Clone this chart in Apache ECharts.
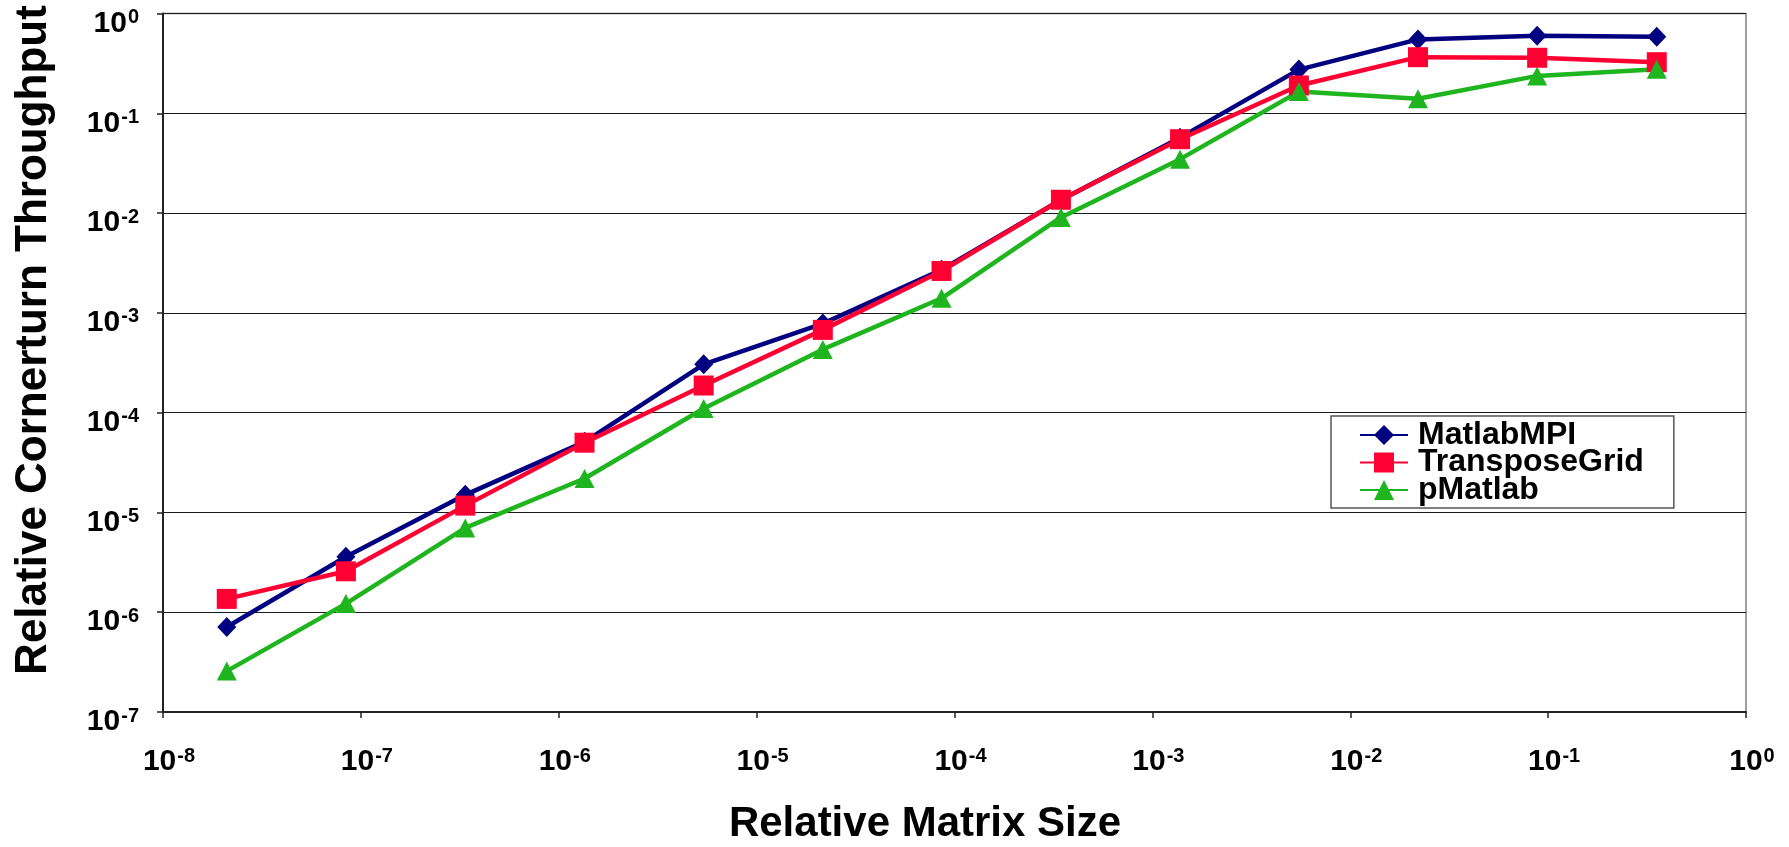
<!DOCTYPE html>
<html><head><meta charset="utf-8">
<script src="https://cdn.jsdelivr.net/npm/echarts@6/dist/echarts.min.js"></script>
<style>html,body{margin:0;padding:0;background:#fff}#c{width:1789px;height:847px}</style>
</head><body><div id="c"></div>
<script>
// Relative matrix size (x)
const matrixSize = [2.1e-8, 8.4e-8, 3.37e-7, 1.35e-6, 5.4e-6, 2.16e-5, 8.6e-5, 3.45e-4, 1.38e-3, 5.5e-3, 2.2e-2, 8.8e-2, 0.354];
// Relative cornerturn throughput (y)
const matlabMPI     = [7.1e-7, 3.6e-6, 1.5e-5, 5.1e-5, 3.05e-4, 7.8e-4, 2.7e-3, 1.35e-2, 5.7e-2, 0.274, 0.55, 0.60, 0.585];
const transposeGrid = [1.36e-6, 2.57e-6, 1.17e-5, 5.0e-5, 1.87e-4, 6.75e-4, 2.63e-3, 1.36e-2, 5.5e-2, 0.19, 0.365, 0.36, 0.325];
const pMatlab       = [2.57e-7, 1.22e-6, 7.0e-6, 2.19e-5, 1.1e-4, 4.3e-4, 1.4e-3, 9.05e-3, 3.47e-2, 0.165, 0.14, 0.237, 0.277];
const seriesNames = ['MatlabMPI', 'TransposeGrid', 'pMatlab'];
const xTickExp = ['-8', '-7', '-6', '-5', '-4', '-3', '-2', '-1', '0'];
const yTickExp = ['-7', '-6', '-5', '-4', '-3', '-2', '-1', '0'];
const xTitle = 'Relative Matrix Size';
const yTitle = 'Relative Cornerturn Throughput';

const FONT = '"Liberation Sans", Arial, sans-serif';
const pairs = ys => matrixSize.map((x, i) => [x, ys[i]]);
const richLbl = {
  b: { fontSize: 30, fontWeight: 'bold', fontFamily: FONT, color: '#000', lineHeight: 32 },
  s: { fontSize: 20, fontWeight: 'bold', fontFamily: FONT, color: '#000', lineHeight: 19, verticalAlign: 'top', padding: [0, 0, 0, 1] }
};
function fmt(arr, minExp) {
  return v => {
    const e = Math.round(Math.log10(v));
    return '{b|10}{s|' + arr[e - minExp] + '}';
  };
}

const chart = echarts.init(document.getElementById('c'), null, { renderer: 'canvas' });
chart.setOption({
  animation: false,
  backgroundColor: '#fff',
  grid: { left: 163, right: 43, top: 13.5, bottom: 135, show: true, borderColor: '#808080', borderWidth: 1.5, backgroundColor: 'transparent' },
  xAxis: {
    type: 'log', logBase: 10, min: 1e-8, max: 1, interval: 1,
    axisLine: { lineStyle: { color: '#222', width: 2 } },
    axisTick: { show: true, length: 6, inside: false, lineStyle: { color: '#222', width: 1.5 } },
    minorTick: { show: false },
    splitLine: { show: false },
    axisLabel: { margin: 34, formatter: fmt(xTickExp, -8), rich: richLbl, padding: [0, 0, 0, 12] }
  },
  yAxis: {
    type: 'log', logBase: 10, min: 1e-7, max: 1, interval: 1,
    axisLine: { show: true, lineStyle: { color: '#222', width: 2 } },
    axisTick: { show: true, length: 6, inside: false, lineStyle: { color: '#222', width: 1.5 } },
    minorTick: { show: false },
    splitLine: { show: true, lineStyle: { color: '#1a1a1a', width: 1.2 } },
    axisLabel: { margin: 24, formatter: fmt(yTickExp, -7), rich: richLbl, padding: [20, 0, 0, 0] }
  },
  legend: {
    orient: 'vertical', left: 1331, top: 416,
    padding: [3, 30, 2, 28], itemGap: -4.5, itemWidth: 48, itemHeight: 25,
    backgroundColor: '#fff', borderColor: '#555', borderWidth: 1.5,
    textStyle: { fontSize: 32, fontWeight: 'bold', fontFamily: FONT, color: '#000', padding: [0, 0, 0, 5] },
    data: seriesNames
  },
  graphic: [
    { type: 'text', position: [925, 824], style: { text: xTitle, font: 'bold 42px ' + FONT, fill: '#000', textAlign: 'center', textVerticalAlign: 'middle' } },
    { type: 'text', position: [34, 340], rotation: Math.PI / 2, style: { text: yTitle, font: 'bold 44px ' + FONT, fill: '#000', textAlign: 'center', textVerticalAlign: 'middle' } }
  ],
  series: [
    { name: seriesNames[0], type: 'line', data: pairs(matlabMPI), symbol: 'diamond', symbolSize: [19, 20],
      lineStyle: { color: '#000080', width: 4.5 }, itemStyle: { color: '#000080' } },
    { name: seriesNames[1], type: 'line', data: pairs(transposeGrid), symbol: 'rect', symbolSize: 20,
      lineStyle: { color: '#FF0033', width: 4.5 }, itemStyle: { color: '#FF0033' } },
    { name: seriesNames[2], type: 'line', data: pairs(pMatlab), symbol: 'triangle', symbolSize: [20, 19],
      lineStyle: { color: '#1FB51F', width: 4.5 }, itemStyle: { color: '#1FB51F' } }
  ]
});
</script></body></html>
